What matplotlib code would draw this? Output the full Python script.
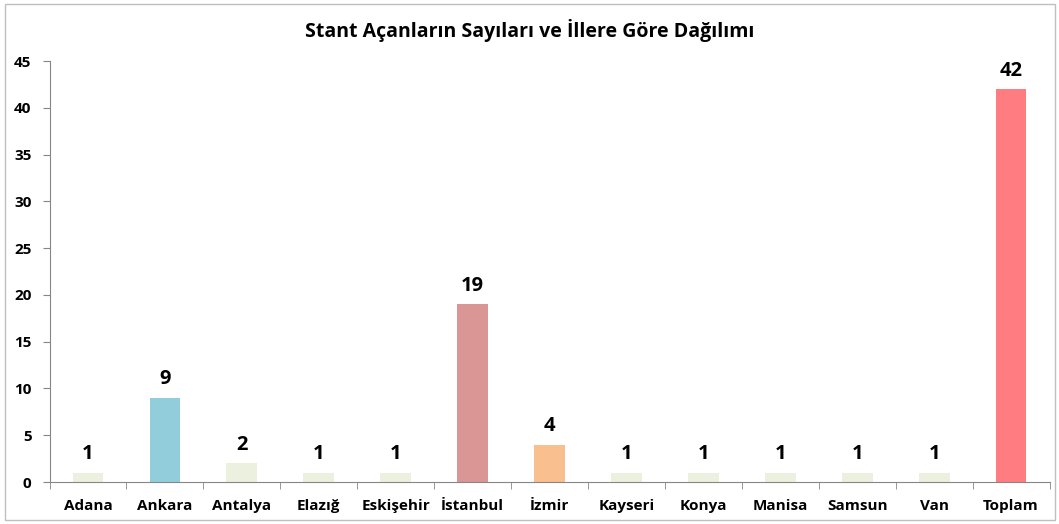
import matplotlib.pyplot as plt
from matplotlib.patches import Rectangle

# data
cities = ['Adana', 'Ankara', 'Antalya', 'Elazığ', 'Eskişehir', 'İstanbul', 'İzmir',
          'Kayseri', 'Konya', 'Manisa', 'Samsun', 'Van', 'Toplam']
counts = [1, 9, 2, 1, 1, 19, 4, 1, 1, 1, 1, 1, 42]
bar_colors = ['#EBF1DE', '#92CDDC', '#EBF1DE', '#EBF1DE', '#EBF1DE', '#DA9694', '#FABF8F',
              '#EBF1DE', '#EBF1DE', '#EBF1DE', '#EBF1DE', '#EBF1DE', '#FF7C80']
y_ticks = [0, 5, 10, 15, 20, 25, 30, 35, 40, 45]

plt.rcParams['font.family'] = ['Open Sans', 'DejaVu Sans']

fig = plt.figure(figsize=(10.59, 5.24), dpi=100)
ax = fig.add_axes([49.5 / 1059, 1 - 482 / 524, 1000 / 1059, (482 - 61) / 524])

# outer frame
fig.patches.append(Rectangle((5 / 1059, 4 / 524), 1050 / 1059, 516 / 524, transform=fig.transFigure,
                             fill=False, edgecolor='#BFBFBF', linewidth=1))

x = range(len(cities))
bars = ax.bar(x, counts, width=0.4, color=bar_colors)
for xi, v in zip(x, counts):
    ax.text(xi, v + 0.9, str(v), ha='center', va='bottom', fontsize=14.5, fontweight='bold')

ax.set_xlim(-0.5, len(cities) - 0.5)
ax.set_ylim(0, 45)
ax.set_yticks(y_ticks)
ax.set_yticklabels([str(t) for t in y_ticks], fontsize=11, fontweight='bold')
ax.set_xticks(list(x))
ax.set_xticklabels(cities, fontsize=11, fontweight='bold')
ax.tick_params(axis='x', length=0, pad=12)
ax.set_xticks([i + 0.5 for i in range(-1, len(cities))], minor=True)
ax.tick_params(axis='x', which='minor', length=5, color='#868686')
ax.tick_params(axis='y', length=5, color='#868686', pad=8)

for pos in ['top', 'right']:
    ax.spines[pos].set_visible(False)
ax.spines['left'].set_color('#868686')
ax.spines['bottom'].set_color('#868686')

fig.text(0.5, 1 - 30 / 524, 'Stant Açanların Sayıları ve İllere Göre Dağılımı',
         ha='center', va='center', fontsize=14, fontweight='bold')

plt.savefig('out.png', dpi=100)
